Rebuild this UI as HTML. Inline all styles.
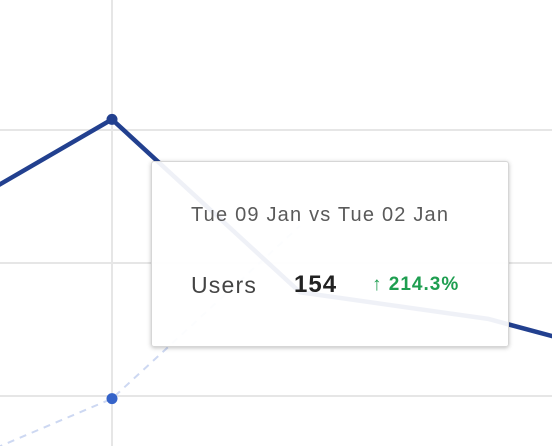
<!DOCTYPE html>
<html><head><meta charset="utf-8"><style>
html,body{margin:0;padding:0;background:#fff;width:552px;height:446px;overflow:hidden;font-family:"Liberation Sans",sans-serif}
#tip{position:absolute;left:151px;top:161px;width:358px;height:186px;box-sizing:border-box;background:rgba(255,255,255,0.93);border:1px solid #d6d6d6;border-radius:3px;box-shadow:0 1px 4px rgba(0,0,0,0.25)}
.t{position:absolute;white-space:nowrap}
</style></head><body>
<svg id="chart" width="552" height="446" style="position:absolute;left:0;top:0"></svg>
<div id="tip">
<div class="t" style="left:39px;top:42px;font-size:20px;letter-spacing:1.2px;color:#5a5a5a">Tue 09 Jan vs Tue 02 Jan</div>
<div class="t" style="left:39px;top:110px;font-size:23px;letter-spacing:1.2px;color:#444">Users</div>
<div class="t" style="left:142px;top:109px;font-size:24px;letter-spacing:1px;font-weight:bold;color:#222">154</div>
<div class="t" style="left:220px;top:112px;font-size:19px;letter-spacing:1px;font-weight:bold;color:#1e9e50">↑ 214.3%</div>
</div>
<script>
const categories=["Mon 08 Jan","Tue 09 Jan","Wed 10 Jan","Thu 11 Jan","Fri 12 Jan"];
const currentValues=[113,154,89,79,60];
const previousValues=[19,49,114];
const gridValues=[50,100,150];
const NS="http://www.w3.org/2000/svg";
const svg=document.getElementById('chart');
function xs(i){return -76+i*188;}
function ys(v){return 529-v*2.66;}
function mk(t,a){const e=document.createElementNS(NS,t);for(const k in a)e.setAttribute(k,a[k]);svg.appendChild(e);return e;}
gridValues.forEach(v=>{const l=mk('line',{x1:0,x2:552,y1:ys(v),y2:ys(v),stroke:'#e6e6e6','stroke-width':2});

});
const vl=mk('line',{x1:xs(1),x2:xs(1),y1:0,y2:446,stroke:'#e6e6e6','stroke-width':2});


const pp=mk('polyline',{points:previousValues.map((v,i)=>xs(i)+','+ys(v)).join(' '),fill:'none',stroke:'#cdd8f2','stroke-width':2,'stroke-dasharray':'7,6'});


const cp=mk('polyline',{points:currentValues.map((v,i)=>xs(i)+','+ys(v)).join(' '),fill:'none',stroke:'#22408f','stroke-width':4.5,'stroke-linejoin':'round'});


const d1=mk('circle',{cx:xs(1),cy:ys(currentValues[1]),r:5.5,fill:'#22408f'});


const d2=mk('circle',{cx:xs(1),cy:ys(previousValues[1]),r:5.5,fill:'#3563c9'});


</script>
</body></html>
